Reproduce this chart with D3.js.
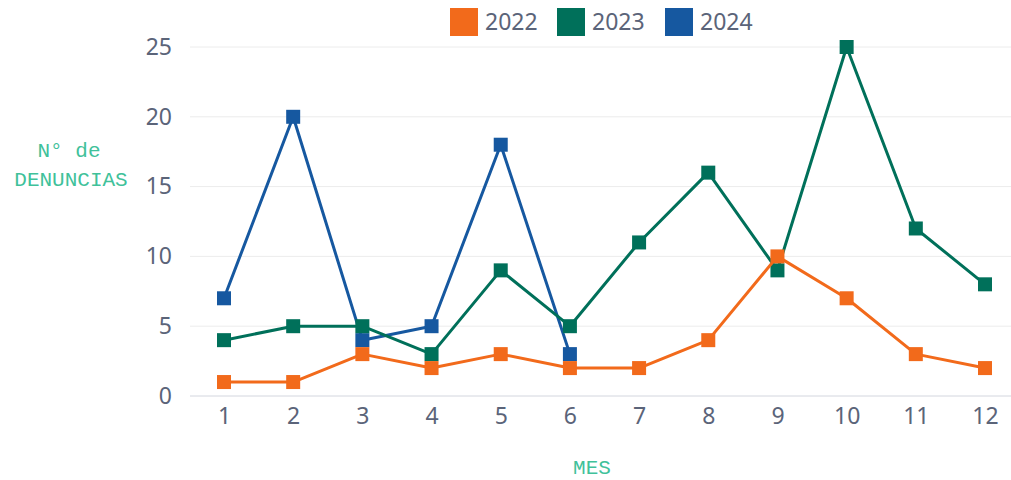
<!DOCTYPE html>
<html><head><meta charset="utf-8">
<script src="https://cdn.jsdelivr.net/npm/d3@7"></script>
<style>body{margin:0;background:#fff;} svg{display:block;}</style>
</head><body>
<svg id="chart" width="1011" height="480"></svg>
<script>
const months = [1,2,3,4,5,6,7,8,9,10,11,12];
const yTicks = [0,5,10,15,20,25];
const seriesNames = ["2022","2023","2024"];
const colors = ["#f26a1b","#00705a","#1658a0"];
const values2022 = [1,1,3,2,3,2,2,4,10,7,3,2];
const values2023 = [4,5,5,3,9,5,11,16,9,25,12,8];
const values2024 = [7,20,4,5,18,3];
const allValues = [values2022, values2023, values2024];

const svg = d3.select("#chart");
const x = d3.scaleLinear().domain([1,12]).range([224,985]);
const y = d3.scaleLinear().domain([0,25]).range([396,47]);
const tickFont = "'Noto Sans', sans-serif";
const tickColor = "#5b6479";

// grid
svg.append("g").selectAll("line").data(yTicks.filter(d=>d>0)).join("line")
  .attr("x1",190).attr("x2",1011).attr("y1",d=>y(d)).attr("y2",d=>y(d))
  .attr("stroke","#ececec").attr("stroke-width",1);
svg.append("line").attr("x1",190).attr("x2",1011).attr("y1",y(0)).attr("y2",y(0))
  .attr("stroke","#d3d6de").attr("stroke-width",1);

// y axis
const yAxis = svg.append("g").attr("transform","translate(172,0)")
  .call(d3.axisLeft(y).tickValues(yTicks).tickSize(0).tickPadding(0));
yAxis.select(".domain").remove();
yAxis.selectAll("text").attr("font-family",tickFont).attr("font-size",23).attr("fill",tickColor);

// x axis
const xAxis = svg.append("g").attr("transform","translate(0,"+(y(0)+12)+")")
  .call(d3.axisBottom(x).tickValues(months).tickFormat(d3.format("d")).tickSize(0).tickPadding(0));
xAxis.select(".domain").remove();
xAxis.selectAll("text").attr("font-family",tickFont).attr("font-size",23).attr("fill",tickColor);

// axis titles
const titleFont = "'Liberation Mono', monospace";
const titleColor = "#40c19a";
svg.append("text").attr("x",69).attr("y",157).attr("text-anchor","middle")
  .attr("font-family",titleFont).attr("font-size",21).attr("fill",titleColor).text("N° de");
svg.append("text").attr("x",71).attr("y",186).attr("text-anchor","middle")
  .attr("font-family",titleFont).attr("font-size",21).attr("fill",titleColor).text("DENUNCIAS");
svg.append("text").attr("x",592).attr("y",474).attr("text-anchor","middle")
  .attr("font-family",titleFont).attr("font-size",21).attr("fill",titleColor).text("MES");

// series (2024 at bottom, 2022 on top)
const line = d3.line().x((d,i)=>x(months[i])).y(d=>y(d));
[2,1,0].forEach(si=>{
  const vals = allValues[si];
  const g = svg.append("g");
  g.append("path").attr("d",line(vals)).attr("fill","none")
    .attr("stroke",colors[si]).attr("stroke-width",3).attr("stroke-linejoin","round");
  g.selectAll("rect").data(vals).join("rect")
    .attr("x",(d,i)=>x(months[i])-7).attr("y",d=>y(d)-7)
    .attr("width",14).attr("height",14).attr("fill",colors[si]);
});

// legend
const legendX = [450,557,665];
const lg = svg.append("g");
seriesNames.forEach((n,i)=>{
  lg.append("rect").attr("x",legendX[i]).attr("y",8).attr("width",28).attr("height",28).attr("fill",colors[i]);
  lg.append("text").attr("x",legendX[i]+35).attr("y",30).attr("font-family",tickFont)
    .attr("font-size",23).attr("fill",tickColor).text(n);
});
</script>
</body></html>
